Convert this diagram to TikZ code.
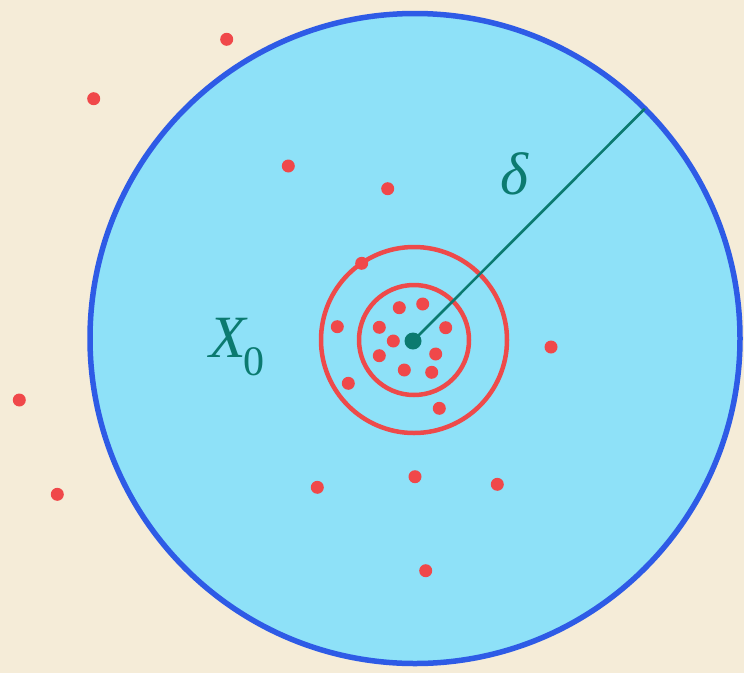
\documentclass[tikz,border=0pt]{standalone}
\usepackage{fontspec}
\setmainfont{Liberation Serif}
\begin{document}
\begin{tikzpicture}[x=1pt,y=-1pt,
  dot/.style={circle,fill=dotred,inner sep=0pt,minimum size=13pt},
  ring/.style={draw=ringred,line width=4.5pt},
  lbl/.style={text=tealc,font=\fontsize{60}{64}\selectfont\itshape,inner sep=0pt}]
\definecolor{bg}{HTML}{F5ECD8}
\definecolor{skyb}{HTML}{8EE1F8}
\definecolor{edgeb}{HTML}{2E5BE6}
\definecolor{ringred}{HTML}{EE4A4A}
\definecolor{dotred}{HTML}{F0484A}
\definecolor{tealc}{HTML}{0B7A70}
\fill[bg] (0,0) rectangle (744,673);
\useasboundingbox (0,0) rectangle (744,673);
% big neighbourhood
\coordinate (O) at (415,338.5);
\fill[skyb] (O) circle (325);
\draw[edgeb,line width=5.5pt] (O) circle (325);
\coordinate (E) at (644.8,108.7);
% rings
\draw[ring] (414,340) circle (93);
\draw[ring] (414,340) circle (55);
% radius line
\node[circle,fill=tealc,inner sep=0pt,minimum size=17pt] (C) at (413,341) {};
\draw[tealc,line width=2.6pt] (C.center) -- (E);
% labels
\node[lbl,anchor=base west] (X) at (209,357) {X\kern-2pt\raisebox{-18pt}{\fontsize{42}{44}\selectfont\upshape 0}};
\node[lbl,anchor=base west] (D) at (500,194) {δ};
% dots inside inner ring
\foreach \i/\x/\y in {1/399.3/307.7,2/422.7/304,3/379.3/327.3,4/445.7/327.7,5/393.3/341,6/379.3/355.7,7/435.7/354,8/404.3/370,9/431.7/372.3}
  \node[dot] (a\i) at (\x,\y) {};
% dots between rings
\foreach \i/\x/\y in {1/337.3/326.7,2/348.3/383.3,3/439.3/408.3,4/361.7/263.3}
  \node[dot] (b\i) at (\x,\y) {};
% other dots
\foreach \i/\x/\y in {1/288.3/166,2/387.7/188.7,3/551/347,4/317.3/487.3,5/415/476.7,6/497.3/484.3,7/425.7/570.7,8/226.7/39.3,9/93.7/98.7,10/19.3/400,11/57.3/494.3}
  \node[dot] (c\i) at (\x,\y) {};
\end{tikzpicture}
\end{document}
